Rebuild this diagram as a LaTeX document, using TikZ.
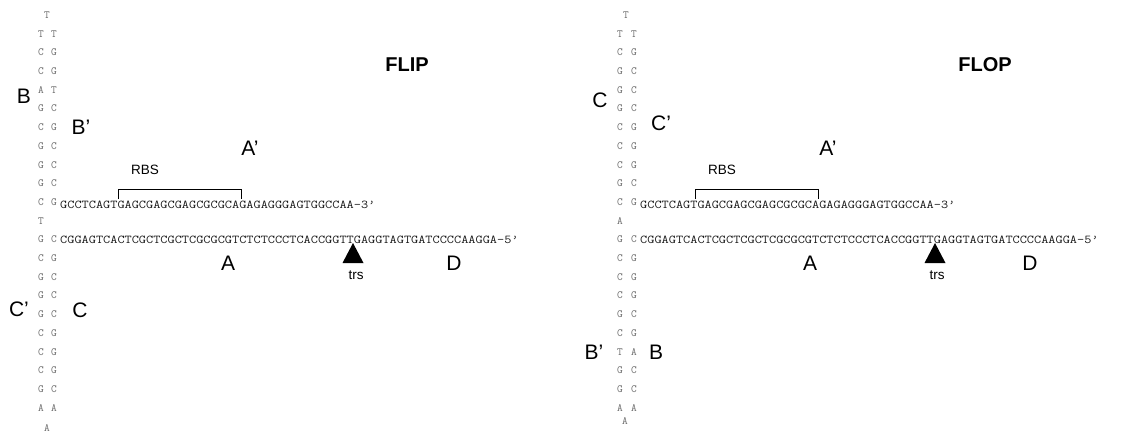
\documentclass[tikz,border=0pt]{standalone}
\usepackage{fontspec}
\setmainfont{Liberation Sans}
\usepackage{graphicx}
\definecolor{colgray}{HTML}{6A6A6A}
\definecolor{seqgray}{HTML}{1A1A1A}
\newcommand\colfnt{\ttfamily\fontsize{11}{11}\selectfont}
\newcommand\seqtxt[1]{\scalebox{1.159}[1]{\ttfamily\fontsize{12}{12}\selectfont #1}}
\tikzset{
  colL/.style={inner sep=0pt, font=\colfnt, text=colgray, anchor=base},
  strand/.style={inner sep=0pt, text=seqgray, anchor=base west},
  biglab/.style={inner sep=0pt, font=\fontsize{21}{21}\selectfont},
  titlelab/.style={inner sep=0pt, font=\bfseries\fontsize{20}{20}\selectfont},
  smalllab/.style={inner sep=0pt, font=\fontsize{13.5}{13.5}\selectfont},
  brk/.style={line width=0.8pt, black},
  tri/.style={fill=black}
}
\begin{document}
\begin{tikzpicture}[x=1pt,y=-1pt]
\useasboundingbox[fill=white] (0,0) rectangle (1123,437);
% ---------------- FLIP ----------------
\node[colL] (ipT) at (47,18.4) {T};
\foreach \i/\l/\r in {1/T/T,2/C/G,3/C/G,4/A/T,5/G/C,6/C/G,7/G/C,8/G/C,9/G/C,10/C/G,
  12/G/C,13/C/G,14/G/C,15/G/C,16/G/C,17/C/G,18/C/G,19/C/G,20/G/C,21/A/A}{
  \node[colL] (ipl\i) at (41,{18.4+18.7*\i}) {\l};
  \node[colL] (ipr\i) at (54,{18.4+18.7*\i}) {\r};
}
\node[colL] (ipl11) at (41,{18.4+18.7*11}) {T};
\node[colL] (ipA) at (47,431.4) {A};
\node[strand] (iptop) at (60,208.6) {\seqtxt{GCCTCAGTGAGCGAGCGAGCGCGCAGAGAGGGAGTGGCCAA-3’}};
\node[strand] (ipbot) at (60,243.6) {\seqtxt{CGGAGTCACTCGCTCGCTCGCGCGTCTCTCCCTCACCGGTTGAGGTAGTGATCCCCAAGGA-5’}};
\coordinate (ipbl) at (118,199);
\coordinate (ipbr) at (241,199);
\draw[brk] (ipbl) -- ++(0,-10) -| (ipbr);
\path[tri] (353,243) -- (363.5,263) -- (342.5,263) -- cycle;
\node[smalllab] (iptrs) at (356,275) {trs};
\node[smalllab] (iprbs) at (145,170) {RBS};
\node[biglab] (ipB) at (24,96) {B};
\node[biglab] (ipBp) at (81,127) {B’};
\node[biglab] (ipAp) at (250,148) {A’};
\node[biglab] (ipAl) at (228,263) {A};
\node[biglab] (ipD) at (454,263) {D};
\node[biglab] (ipCp) at (19,309) {C’};
\node[biglab] (ipC) at (80,310) {C};
\node[titlelab] (ipttl) at (407,65) {FLIP};
% ---------------- FLOP ----------------
\node[colL] (opT) at (626,18.4) {T};
\foreach \i/\l/\r in {1/T/T,2/C/G,3/G/C,4/G/C,5/G/C,6/C/G,7/C/G,8/C/G,9/G/C,10/C/G,
  12/G/C,13/C/G,14/C/G,15/C/G,16/G/C,17/C/G,18/T/A,19/G/C,20/G/C,21/A/A}{
  \node[colL] (opl\i) at (620,{18.4+18.7*\i}) {\l};
  \node[colL] (opr\i) at (634,{18.4+18.7*\i}) {\r};
}
\node[colL] (opl11) at (620,{18.4+18.7*11}) {A};
\node[colL] (opA) at (625,424) {A};
\node[strand] (optop) at (640,208.6) {\seqtxt{GCCTCAGTGAGCGAGCGAGCGCGCAGAGAGGGAGTGGCCAA-3’}};
\node[strand] (opbot) at (640,243.6) {\seqtxt{CGGAGTCACTCGCTCGCTCGCGCGTCTCTCCCTCACCGGTTGAGGTAGTGATCCCCAAGGA-5’}};
\coordinate (opbl) at (695,199);
\coordinate (opbr) at (818,199);
\draw[brk] (opbl) -- ++(0,-10) -| (opbr);
\path[tri] (935,243) -- (945.5,263) -- (924.5,263) -- cycle;
\node[smalllab] (optrs) at (937,275) {trs};
\node[smalllab] (oprbs) at (722,170) {RBS};
\node[biglab] (opC) at (600,100) {C};
\node[biglab] (opCp) at (661,123) {C’};
\node[biglab] (opAp) at (828,148) {A’};
\node[biglab] (opAl) at (810,263) {A};
\node[biglab] (opD) at (1030,263) {D};
\node[biglab] (opBp) at (594,352) {B’};
\node[biglab] (opB) at (656,352) {B};
\node[titlelab] (opttl) at (985,65) {FLOP};
\end{tikzpicture}
\end{document}
